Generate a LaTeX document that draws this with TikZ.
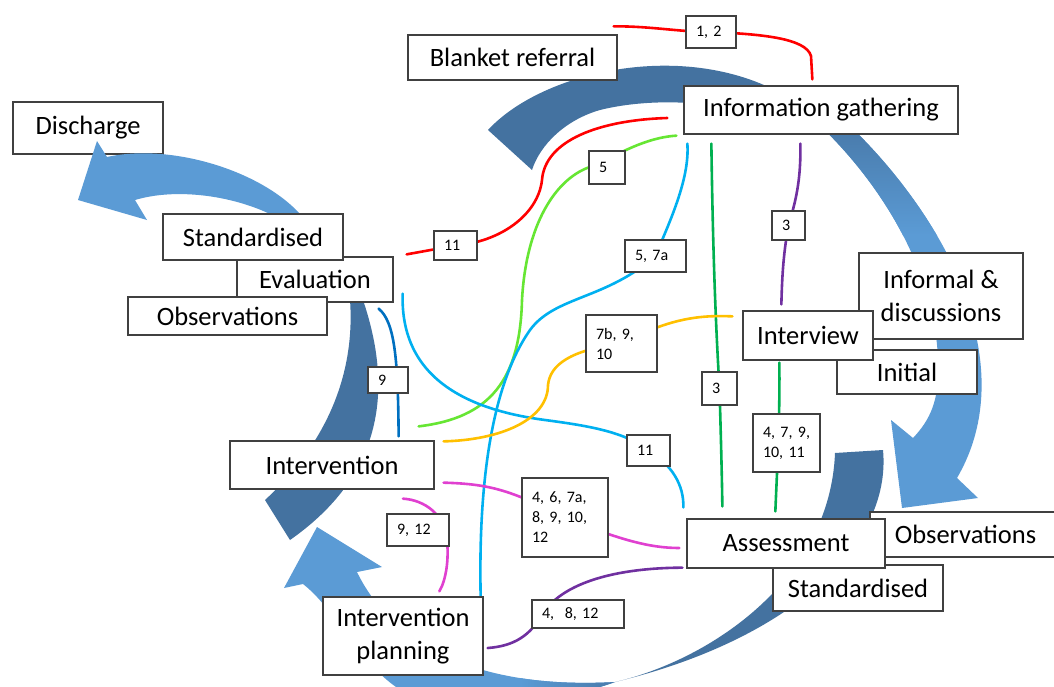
\documentclass[tikz,border=0pt]{standalone}
\usepackage{fontspec}
\setmainfont{Carlito}
\definecolor{arcdark}{RGB}{68,114,160}
\definecolor{arclight}{RGB}{91,155,213}
\definecolor{boxline}{RGB}{64,64,64}
\definecolor{lnred}{RGB}{255,0,0}
\definecolor{lnlime}{RGB}{102,230,51}
\definecolor{lncyan}{RGB}{0,176,240}
\definecolor{lngreen}{RGB}{0,176,80}
\definecolor{lnpurple}{RGB}{112,48,160}
\definecolor{lnorange}{RGB}{255,192,0}
\definecolor{lnblue}{RGB}{0,112,192}
\definecolor{lnpink}{RGB}{224,64,208}
\newcommand\largelabel{\fontsize{26.5}{33}\selectfont}
\newcommand\smalllabel{\fontsize{16}{20}\selectfont}
\pgfdeclarelayer{shapes}
\pgfdeclarelayer{links}
\pgfsetlayers{shapes,links,main}

\begin{document}
\begin{tikzpicture}[x=1pt,y=-1pt,
  box/.style={draw=boxline, line width=1.3pt, fill=white, inner sep=0pt, align=center, font=\largelabel},
  tag/.style={draw=boxline, line width=1.2pt, fill=white, inner xsep=10pt, inner ysep=0pt, align=left, font=\smalllabel},
  link/.style={line width=2.6pt, line cap=round}]
\useasboundingbox (0,0) rectangle (1054,686);

% ---------- stage boxes ----------
\node[box, minimum width=209pt, minimum height=45pt] (blanket) at (512.5,57.5) {Blanket referral};
\node[box, minimum width=274pt, minimum height=48pt] (info) at (821,110) {Information gathering};
\node[box, minimum width=156pt, minimum height=45pt] (eval) at (315,279.5) {Evaluation};
\node[box, minimum width=180pt, minimum height=46pt] (stdL) at (253,237) {Standardised};
\node[box, minimum width=199pt, minimum height=38pt] (obsL) at (227.5,316) {Observations};
\node[box, minimum width=164pt, minimum height=86pt] (informal) at (941,296) {Informal \&\\discussions};
\node[box, minimum width=140pt, minimum height=44pt] (initial) at (907,372) {Initial};
\node[box, minimum width=130pt, minimum height=49pt] (interview) at (808,335.5) {Interview};
\node[box, minimum width=191pt, minimum height=45pt] (obsR) at (965.5,534.5) {Observations};
\node[box, minimum width=170pt, minimum height=46pt] (stdR) at (858,588) {Standardised};
\node[box, minimum width=198pt, minimum height=49pt] (assess) at (786,543.5) {Assessment};
\node[box, minimum width=204pt, minimum height=48pt] (interv) at (332,465) {Intervention};
\node[box, minimum width=160pt, minimum height=78pt] (ip) at (403,636) {Intervention\\planning};

% ---------- number tags ----------
\node[tag, text width=30pt, minimum height=32pt] (l12) at (711,32) {1,~2};
\node[tag, text width=23pt, minimum height=29pt] (l11a) at (455.5,245.5) {11};
\node[tag, text width=16pt, minimum height=33pt] (l5) at (607,167.5) {5};
\node[tag, text width=41pt, minimum height=32pt] (l57a) at (655.5,256) {5,~7a};
\node[tag, text width=15pt, minimum height=33pt] (l3a) at (719.5,388.5) {3};
\node[tag, text width=13pt, minimum height=29pt] (l3b) at (788.5,225.5) {3};
\node[tag, text width=47pt, minimum height=58pt] (l47) at (786.5,443) {4,~7,~9,\\10,~11};
\node[tag, text width=51pt, minimum height=57pt] (l7b) at (621.5,343.5) {7b,~9,\\10};
\node[tag, text width=20pt, minimum height=26pt] (l9) at (388,380) {9};
\node[tag, text width=23pt, minimum height=31pt] (l11b) at (648.5,450.5) {11};
\node[tag, text width=66pt, minimum height=79pt] (l46) at (565,517.5) {4,~6,~7a,\\8,~9,~10,\\12};
\node[tag, text width=42pt, minimum height=32pt] (l912) at (418,530) {9,~12};
\node[tag, text width=72pt, minimum height=28pt] (l4812) at (578,614) {4,~~8,~12};

% ---------- cycle arrows ----------
\begin{pgfonlayer}{shapes}
\fill[white] (0,0) rectangle (1054,686);
% top ribbon, back face
\fill[arcdark] (532,170) -- (488,130) .. controls (545,68) and (700,35) .. (800,105)
  -- (760,115) .. controls (700,98) and (640,100) .. (600,110)
  .. controls (565,120) and (540,145) .. (532,170) -- cycle;
% right side, front face with head
\begin{scope}
\clip (812,118) .. controls (880,180) and (935,270) .. (938,360)
  .. controls (940,400) and (930,420) .. (913,438) -- (891,420) -- (902,508)
  -- (978,498) -- (957,478) .. controls (985,430) and (985,380) .. (977,340)
  .. controls (965,260) and (900,170) .. (838,115) -- cycle;
\fill[arclight] (800,100) rectangle (1000,520);
\shade[top color=arcdark, bottom color=arclight] (800,100) rectangle (1000,235);
\end{scope}
% lower ribbon, back face
\fill[arcdark] (835,453) -- (883,450) .. controls (892,545) and (790,640) .. (615,682)
  .. controls (710,660) and (830,580) .. (835,453) -- cycle;
% lower left, front face with head
\begin{scope}
\clip (303,584) -- (284,588) -- (317,527) -- (382,567) -- (357,572)
  .. controls (390,640) and (470,690) .. (615,682)
  .. controls (580,695) and (500,712) .. (430,702)
  .. controls (370,690) and (343,615) .. (303,584) -- cycle;
\fill[arclight] (250,500) rectangle (700,720);
\shade[left color=arclight, right color=arcdark] (520,600) rectangle (640,720);
\end{scope}
% left ribbon, back face
\fill[arcdark] (265,500) .. controls (330,440) and (355,370) .. (350,300) -- (363,300)
  .. controls (390,380) and (390,470) .. (290,540) -- cycle;
% exit box lies under the discharge arrow
\node[box, minimum width=150pt, minimum height=52pt] (discharge) at (88,128) {Discharge};
% discharge arrow, front face with head
\fill[arclight] (352,300) -- (270,214) .. controls (230,195) and (175,188) .. (135,200)
  -- (147,220) -- (78,200) -- (97,141) -- (107,157)
  .. controls (170,143) and (260,170) .. (300,214) -- (365,300) -- cycle;
\end{pgfonlayer}

% ---------- numbered links ----------
\begin{pgfonlayer}{links}
\draw[link, lnred] ([shift={(-4,-8)}]blanket.north east) .. controls (650,26) and (680,32) .. (l12.center)
  .. controls (760,34) and (806,38) .. (811,56) -- ([shift={(129,-6)}]info.north west);
\draw[link, lnred] ([shift={(13,-2)}]eval.north east) -- (l11a.center)
  .. controls (500,242) and (538,215) .. (542,180)
  .. controls (545,140) and (600,120) .. ([shift={(-16,8)}]info.west);
\draw[link, lnlime] ([shift={(-16,-14)}]interv.north east) .. controls (490,418) and (520,380) .. (522,300)
  .. controls (526,225) and (555,180) .. (l5.west)
  .. controls (610,160) and (640,138) .. ([shift={(-7,1)}]info.south west);
\draw[link, lncyan] ([shift={(-3,0)}]ip.north east) .. controls (478,470) and (495,380) .. (530,330)
  .. controls (555,296) and (605,300) .. (l57a.center)
  .. controls (668,225) and (690,180) .. ([shift={(4,9)}]info.south west);
\draw[link, lncyan] ([shift={(9,-9)}]eval.south east) .. controls (400,380) and (470,410) .. (545,420)
  .. controls (590,426) and (625,432) .. (l11b.center)
  .. controls (672,465) and (684,485) .. ([shift={(-3,-11)}]assess.north west);
\draw[link, lngreen] ([shift={(28,9)}]info.south west) .. controls (713,260) and (716,330) .. (l3a.center)
  .. controls (721,440) and (722,480) .. ([shift={(36,-12)}]assess.north west);
\draw[link, lnpurple] ([shift={(117,9)}]info.south west) .. controls (801,180) and (796,200) .. (l3b.center)
  .. controls (783,255) and (782,280) .. ([shift={(39,-6)}]interview.north west);
\draw[link, lngreen] ([shift={(37,2)}]interview.south west) .. controls (780,420) and (777,470) .. ([shift={(89,-7)}]assess.north west);
\draw[link, lnorange] ([shift={(-10,6)}]interview.north west) .. controls (700,315) and (670,318) .. (l7b.center)
  .. controls (570,350) and (550,365) .. (548,385)
  .. controls (548,420) and (500,440) .. ([shift={(9,1)}]interv.north east);
\draw[link, lnblue] ([shift={(-15,6)}]eval.south east) .. controls (395,322) and (398,360) .. ([shift={(-36,-4)}]interv.north east);
\draw[link, lnpink] ([shift={(9,-7)}]interv.south east) .. controls (490,484) and (510,490) .. (l46.center)
  .. controls (620,540) and (650,548) .. ([shift={(-7,4.5)}]assess.west);
\draw[link, lnpink] ([shift={(71,9)}]interv.south) .. controls (425,500) and (445,515) .. (447,540)
  .. controls (449,560) and (446,580) .. ([shift={(117,-5)}]ip.north west);
\draw[link, lnpurple] ([shift={(4,12)}]ip.east) .. controls (515,646) and (530,635) .. (542,615)
  .. controls (560,585) and (610,568) .. ([shift={(-4,-1)}]assess.south west);
\end{pgfonlayer}
\end{tikzpicture}
\end{document}
